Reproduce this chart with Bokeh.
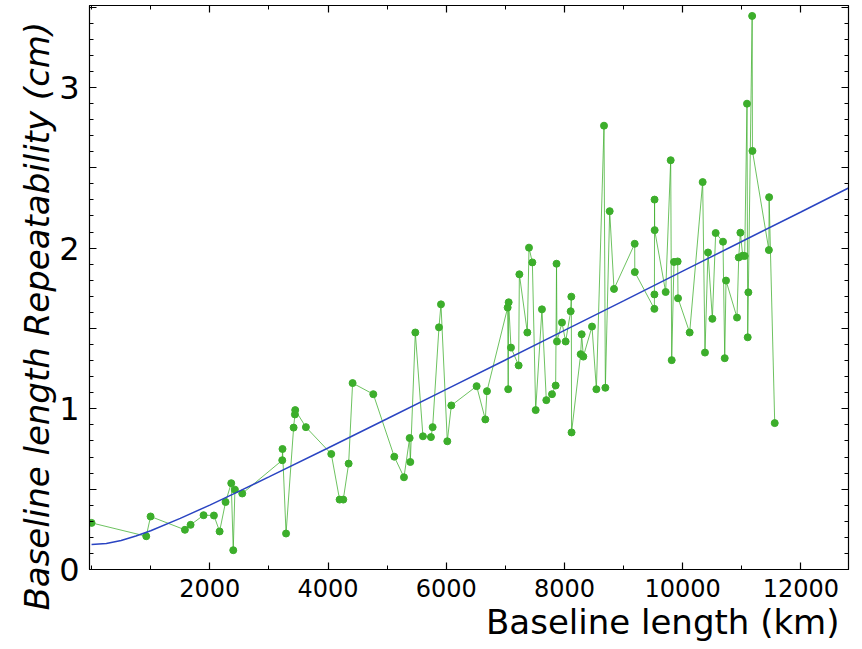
from bokeh.plotting import figure
from bokeh.models import LinearAxis, FixedTicker, Title, Range1d
from bokeh.embed import file_html
from bokeh.resources import INLINE

# Baseline length (km) and repeatability (cm)
baseline_km = [0, 925, 998, 1579, 1675, 1895, 2070, 2166, 2267, 2363, 2397, 2425, 2549,
               3226, 3230, 3290, 3418, 3440, 3445, 3626, 4055, 4196, 4258, 4349, 4416,
               4766, 5121, 5285, 5381, 5392, 5477, 5606, 5741, 5770, 5877, 5911, 6018,
               6086, 6514, 6661, 6689, 7039, 7048, 7056, 7095, 7225, 7237, 7372, 7400,
               7457, 7513, 7619, 7693, 7789, 7851, 7866, 7873, 7958, 8020, 8105, 8116,
               8120, 8274, 8291, 8319, 8466, 8540, 8669, 8692, 8765, 8838, 9188, 9190,
               9521, 9522, 9524, 9526, 9712, 9797, 9814, 9853, 9915, 9921, 10118, 10338,
               10377, 10428, 10502, 10558, 10682, 10711, 10733, 10919, 10948, 10976,
               11015, 11049, 11088, 11100, 11111, 11175, 11180, 11458, 11462, 11557]
repeat_cm = [0.29, 0.207, 0.33, 0.247, 0.278, 0.338, 0.336, 0.237, 0.42, 0.537, 0.12, 0.497, 0.473,
             0.68, 0.75, 0.224, 0.883, 0.965, 0.992, 0.886, 0.719, 0.435, 0.435, 0.659, 1.160,
             1.091, 0.702, 0.574, 0.818, 0.669, 1.475, 0.829, 0.824, 0.886, 1.507, 1.650, 0.798,
             1.021, 1.141, 0.934, 1.110, 1.630, 1.122, 1.663, 1.381, 1.270, 1.837, 1.475, 2.003,
             1.911, 0.992, 1.619, 1.054, 1.091, 1.145, 1.903, 1.419, 1.537, 1.419, 1.607, 1.698,
             0.853, 1.340, 1.464, 1.325, 1.512, 1.122, 2.762, 1.131, 2.230, 1.746, 2.027, 1.851,
             1.622, 1.712, 2.302, 2.112, 1.727, 2.547, 1.303, 1.914, 1.917, 1.688, 1.475, 2.411,
             1.350, 1.973, 1.560, 2.094, 2.040, 1.315, 1.798, 1.568, 1.942, 2.096,
             1.953, 1.951, 2.899, 1.445, 1.725, 3.445, 2.605, 1.988, 2.317, 0.911]

# Fitted model curve
curve_km = [0, 250, 500, 750, 1000, 1500, 2000, 2500, 3000, 4000, 5000, 6000, 7000,
            8000, 9000, 10000, 11000, 12000, 12805]
curve_cm = [0.155, 0.162, 0.181, 0.208, 0.241, 0.318, 0.401, 0.488, 0.576, 0.756, 0.938,
            1.121, 1.304, 1.488, 1.672, 1.857, 2.041, 2.225, 2.374]

x_major = [2000, 4000, 6000, 8000, 10000, 12000]
x_minor = [0, 1000, 3000, 5000, 7000, 9000, 11000]
y_major = [0, 0.5, 1, 1.5, 2, 2.5, 3, 3.5]
y_minor = [round(i * 0.1, 1) for i in range(0, 36) if i % 5 != 0]
y_labels = {0: "0", 0.5: "", 1: "1", 1.5: "", 2: "2", 2.5: "", 3: "3", 3.5: ""}

FONT = "DejaVu Sans"
GREEN = "#3cae2b"
BLUE = "#2a44c2"

p = figure(width=854, height=641, x_range=Range1d(-35, 12805), y_range=Range1d(0, 3.51),
           output_backend="svg", toolbar_location=None,
           min_border_left=89, min_border_right=6, min_border_top=5, min_border_bottom=70)
p.grid.visible = False
p.outline_line_color = "black"
p.background_fill_color = "white"
p.border_fill_color = "white"

xt = FixedTicker(ticks=x_major, minor_ticks=x_minor)
yt = FixedTicker(ticks=y_major, minor_ticks=y_minor)


def style(ax, show_labels, size, ticks=None):
    ax.axis_line_color = "black"
    ax.axis_line_width = 1.2
    ax.major_tick_in = 7
    ax.major_tick_out = 0
    ax.minor_tick_in = 4
    ax.minor_tick_out = 0
    ax.major_tick_line_color = "black"
    ax.minor_tick_line_color = "black"
    ax.major_tick_line_width = 1.2
    ax.minor_tick_line_width = 1
    if show_labels:
        ax.major_label_text_font = FONT
        ax.major_label_text_font_size = size
        ax.major_label_text_color = "black"
    else:
        ax.major_label_overrides = {t: "" for t in ticks}
        ax.major_label_text_font_size = "0px"
        ax.major_label_standoff = 0


p.xaxis.ticker = xt
p.yaxis.ticker = yt
style(p.xaxis[0], True, "24px")
style(p.yaxis[0], True, "32px")
p.xaxis.major_label_standoff = 9
p.yaxis.major_label_standoff = 10
p.yaxis.major_label_overrides = y_labels

top = LinearAxis(ticker=xt)
style(top, False, None, x_major)
right = LinearAxis(ticker=yt)
style(right, False, None, y_major)
p.add_layout(top, "above")
p.add_layout(right, "right")

p.line(baseline_km, repeat_cm, line_color=GREEN, line_width=1, line_alpha=0.75)
p.scatter(baseline_km, repeat_cm, size=7, fill_color=GREEN, line_color=GREEN)
p.line(curve_km, curve_cm, line_color=BLUE, line_width=1.5)

xlabel = Title(text="Baseline length (km)", align="right", offset=9,
               text_font=FONT, text_font_size="34px", text_font_style="normal",
               text_color="black", standoff=0)
p.add_layout(xlabel, "below")
ylabel = Title(text="Baseline length Repeatability (cm)", align="left", offset=-41,
               text_font=FONT, text_font_size="34px", text_font_style="italic",
               text_color="black", standoff=0)
p.add_layout(ylabel, "left")

open("out.html", "w").write(file_html(p, INLINE))
